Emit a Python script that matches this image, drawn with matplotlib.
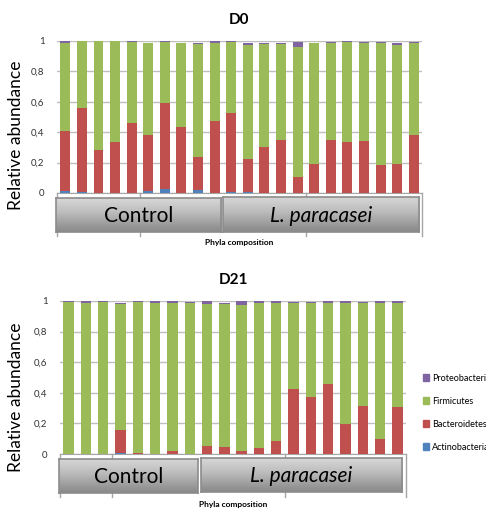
import numpy as np
import matplotlib
matplotlib.use('Agg')
import matplotlib.pyplot as plt
from matplotlib.patches import Patch

plt.rcParams['font.family'] = ['Lato', 'DejaVu Sans']

phyla = ['Proteobacteria', 'Firmicutes', 'Bacteroidetes', 'Actinobacteria']
colors = {'Actinobacteria': '#4F81BD', 'Bacteroidetes': '#C0504D',
          'Firmicutes': '#9BBB59', 'Proteobacteria': '#8064A2'}

groups = ['Control', 'L. paracasei']
ytick_vals = [0, 0.2, 0.4, 0.6, 0.8, 1]
ytick_labels = ['0', '0,2', '0,4', '0,6', '0,8', '1']

# D0: 10 control + 12 L. paracasei
d0_group_sizes = [10, 12]
d0_tick_bounds = [0, 5, 15, 22]
d0_actino = [0.01, 0.008, 0, 0, 0, 0.01, 0.025, 0, 0.02, 0, 0.008,
             0.008, 0, 0, 0, 0, 0, 0, 0, 0, 0, 0]
d0_bactero = [0.399, 0.55, 0.284, 0.333, 0.462, 0.369, 0.566, 0.435, 0.214, 0.476, 0.516,
              0.215, 0.30, 0.346, 0.107, 0.19, 0.346, 0.337, 0.339, 0.184, 0.19, 0.383]
d0_firmi = [0.580, 0.439, 0.714, 0.665, 0.531, 0.605, 0.400, 0.549, 0.744, 0.513, 0.469,
            0.753, 0.678, 0.632, 0.855, 0.794, 0.643, 0.656, 0.650, 0.805, 0.786, 0.606]
d0_proteo = [0.011, 0.003, 0.002, 0.002, 0.007, 0.005, 0.009, 0.005, 0.011, 0.009, 0.007,
             0.008, 0.006, 0.006, 0.034, 0.005, 0.007, 0.007, 0.007, 0.007, 0.008, 0.007]

# D21: 8 control + 12 L. paracasei
d21_group_sizes = [8, 12]
d21_tick_bounds = [0, 3, 13, 20]
d21_actino = [0, 0, 0, 0.005, 0, 0, 0, 0, 0, 0, 0, 0, 0, 0, 0, 0, 0, 0, 0, 0]
d21_bactero = [0, 0, 0, 0.149, 0.006, 0, 0.022, 0, 0.053, 0.048, 0.022, 0.042, 0.088,
               0.422, 0.371, 0.46, 0.196, 0.312, 0.099, 0.308]
d21_firmi = [0.996, 0.987, 0.991, 0.824, 0.990, 0.989, 0.967, 0.987, 0.929, 0.930, 0.954,
             0.945, 0.899, 0.565, 0.616, 0.529, 0.793, 0.672, 0.890, 0.681]
d21_proteo = [0.004, 0.013, 0.009, 0.011, 0.004, 0.009, 0.009, 0.006, 0.018, 0.006, 0.024,
              0.013, 0.013, 0.006, 0.006, 0.011, 0.011, 0.012, 0.011, 0.011]

W, H = 486, 509
fig = plt.figure(figsize=(W / 100, H / 100), dpi=100)


def px(x0, y0, x1, y1):
    return [x0 / W, 1 - y1 / H, (x1 - x0) / W, (y1 - y0) / H]


def box(rect, text, italic=False):
    bax = fig.add_axes(px(*rect))
    grad = np.linspace(0, 1, 50).reshape(-1, 1)
    bax.imshow(grad, aspect='auto', cmap='Greys', vmin=-0.9, vmax=2.6,
               extent=[0, 1, 0, 1], origin='upper')
    bax.set_xticks([])
    bax.set_yticks([])
    for s in bax.spines.values():
        s.set_color('#8C8C8C')
        s.set_linewidth(1.2)
    bax.text(0.5, 0.47, text, ha='center', va='center', fontsize=15,
             style='italic' if italic else 'normal', transform=bax.transAxes)


def panel(rect, title, actino, bactero, firmi, proteo, bounds, group_sizes, boxes,
          xlab_y, ylab_xy):
    ax = fig.add_axes(px(*rect))
    x = np.arange(len(actino))
    series = {'Actinobacteria': actino, 'Bacteroidetes': bactero,
              'Firmicutes': firmi, 'Proteobacteria': proteo}
    bottom = np.zeros(len(x))
    for name in ['Actinobacteria', 'Bacteroidetes', 'Firmicutes', 'Proteobacteria']:
        v = np.array(series[name])
        ax.bar(x, v, 0.6, bottom=bottom, color=colors[name], zorder=3)
        bottom += v
    ax.set_xlim(-0.5, len(x) - 0.5)
    ax.set_ylim(0, 1)
    ax.set_yticks(ytick_vals)
    ax.set_yticklabels(ytick_labels, fontsize=7, color='#333333')
    ax.tick_params(axis='y', length=0, pad=9)
    ax.set_xticks([])
    ax.grid(axis='y', color='#BFBFBF', linewidth=1, zorder=0)
    for s in ['left', 'right', 'top']:
        ax.spines[s].set_visible(False)
    ax.spines['bottom'].set_color('#A6A6A6')
    for b in bounds:
        ax.plot([b - 0.5, b - 0.5], [0, -0.28], color='#A6A6A6', lw=1,
                clip_on=False, zorder=1)
    ax.set_title(title, fontsize=11, fontweight='bold', pad=12)
    ax.set_ylabel('Relative abundance', fontsize=12.5)
    ax.yaxis.set_label_coords(*ylab_xy)
    for (r, label) in zip(boxes, groups):
        box(r, label, italic=(label != 'Control'))
    fig.text((rect[0] + rect[2]) / 2 / W, 1 - xlab_y / H, 'Phyla composition',
             ha='center', va='center', fontsize=6, fontweight='bold')
    return ax


panel((57, 41, 422, 193), 'D0', d0_actino, d0_bactero, d0_firmi, d0_proteo,
      d0_tick_bounds, d0_group_sizes,
      [(56, 198, 221, 232), (223, 197, 419, 232)], 243, (-0.09, 0.38))
panel((60, 301, 406, 454), 'D21', d21_actino, d21_bactero, d21_firmi, d21_proteo,
      d21_tick_bounds, d21_group_sizes,
      [(59, 459, 198, 493), (201, 458, 402, 492)], 504, (-0.103, 0.373))

handles = [Patch(color=colors[p]) for p in phyla]
fig.legend(handles, phyla, loc='upper left', bbox_to_anchor=(419 / W, 1 - 370 / H),
           frameon=False, fontsize=6.5, handlelength=0.7, handleheight=0.7,
           handletextpad=0.35, labelspacing=1.55, borderaxespad=0)

fig.savefig('out.png', dpi=100)
